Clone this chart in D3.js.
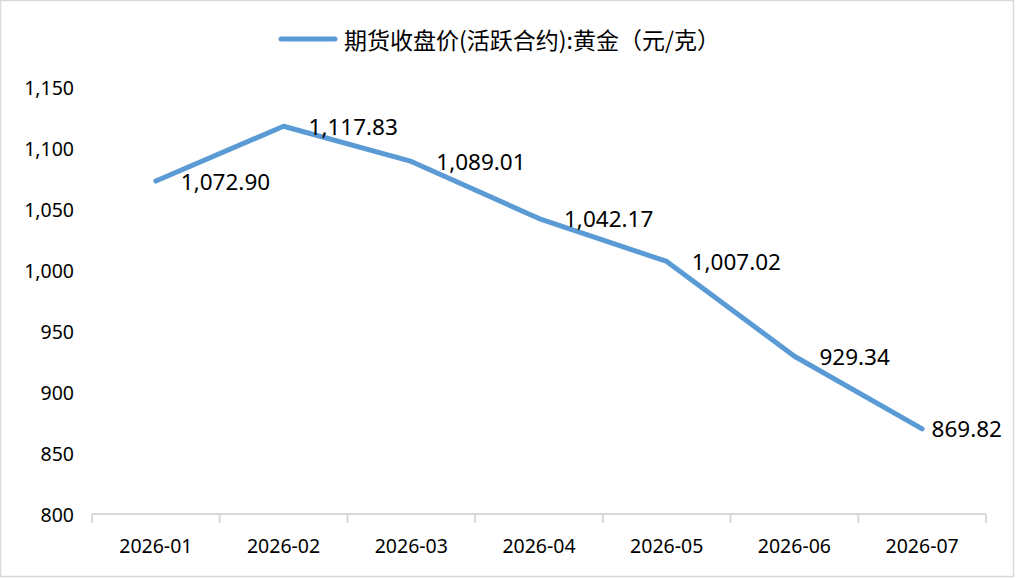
<!DOCTYPE html>
<html>
<head>
<meta charset="utf-8">
<script src="https://cdn.jsdelivr.net/npm/d3@7"></script>
<style>
  body { margin: 0; background: #fff; }
  svg { display: block; font-family: "Noto Sans", "Open Sans", sans-serif; }
</style>
</head>
<body>
<svg id="chart" width="1016" height="578"></svg>
<script>
// données
var months = ["2026-01", "2026-02", "2026-03", "2026-04", "2026-05", "2026-06", "2026-07"];
var prices = [1072.90, 1117.83, 1089.01, 1042.17, 1007.02, 929.34, 869.82];
var yTicks = [800, 850, 900, 950, 1000, 1050, 1100, 1150];
var seriesName = "期货收盘价(活跃合约):黄金（元/克）";

var width = 1016, height = 578;
var blue = "#5B9BD5", axisGrey = "#d9d9d9";
var svg = d3.select("#chart");

// cadre du graphique
svg.append("rect")
    .attr("x", 0.5).attr("y", 0.5)
    .attr("width", width - 3).attr("height", height - 2)
    .attr("fill", "#fff")
    .attr("stroke", axisGrey)
    .attr("stroke-width", 1.5);

var x = d3.scaleBand().domain(months).range([92, 986]);
var y = d3.scaleLinear().domain([800, 1150]).range([514, 87]);

// axe Y (étiquettes seulement)
svg.append("g")
    .selectAll("text")
    .data(yTicks)
    .enter()
    .append("text")
    .attr("x", 74)
    .attr("y", function(d){ return y(d); })
    .attr("text-anchor", "end")
    .attr("dominant-baseline", "central")
    .style("font-size", "19.5px")
    .style("fill", "#000")
    .text(function(d){ return d3.format(",")(d); });

// axe X
var xAxis = svg.append("g").attr("transform", "translate(0," + y(800) + ")");
xAxis.append("line")
    .attr("x1", 92).attr("x2", 986)
    .attr("stroke", axisGrey).attr("stroke-width", 2);
var bounds = months.map(function(m){ return x(m); }).concat([x(months[months.length-1]) + x.bandwidth()]);
xAxis.selectAll("line.tick")
    .data(bounds)
    .enter()
    .append("line")
    .attr("class", "tick")
    .attr("x1", function(d){ return d; }).attr("x2", function(d){ return d; })
    .attr("y1", 0).attr("y2", 9)
    .attr("stroke", axisGrey).attr("stroke-width", 2);
xAxis.selectAll("text")
    .data(months)
    .enter()
    .append("text")
    .attr("x", function(d){ return x(d) + x.bandwidth()/2; })
    .attr("y", 31)
    .attr("text-anchor", "middle")
    .attr("dominant-baseline", "central")
    .style("font-size", "19.5px")
    .style("fill", "#000")
    .text(function(d){ return d; });

// la courbe
var line = d3.line()
    .x(function(d, i){ return x(months[i]) + x.bandwidth()/2; })
    .y(function(d){ return y(d); });

svg.append("path")
    .datum(prices)
    .attr("d", line)
    .attr("fill", "none")
    .attr("stroke", blue)
    .attr("stroke-width", 5)
    .attr("stroke-linejoin", "round")
    .attr("stroke-linecap", "round");

// étiquettes de données (à droite du point, repoussées si elles sortent du cadre)
svg.append("g")
    .selectAll("text")
    .data(prices)
    .enter()
    .append("text")
    .attr("y", function(d){ return y(d); })
    .attr("dominant-baseline", "central")
    .style("font-size", "22.5px")
    .style("fill", "#000")
    .text(function(d){ return d3.format(",.2f")(d); })
    .attr("x", function(d, i){
        var px = x(months[i]) + x.bandwidth()/2 + 25;
        var w = this.getComputedTextLength();
        return Math.min(px, 1002 - w);
    });

// légende
var legend = svg.append("g");
legend.append("line")
    .attr("x1", 281).attr("x2", 335)
    .attr("y1", 39).attr("y2", 39)
    .attr("stroke", blue).attr("stroke-width", 5)
    .attr("stroke-linecap", "round");
legend.append("text")
    .attr("x", 344)
    .attr("y", 39)
    .attr("dominant-baseline", "central")
    .style("font-family", "\"Noto Sans CJK SC\", sans-serif")
    .style("font-size", "23px")
    .style("fill", "#000")
    .text(seriesName);
</script>
</body>
</html>
